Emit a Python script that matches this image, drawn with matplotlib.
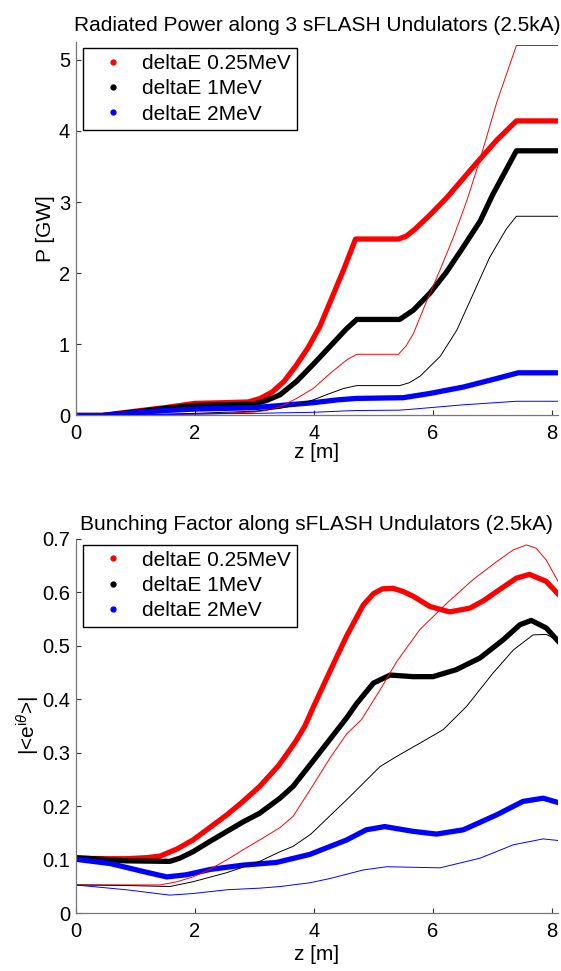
import numpy as np
import matplotlib
matplotlib.use("Agg")
import matplotlib.pyplot as plt
from matplotlib.lines import Line2D
from matplotlib.ticker import FuncFormatter

# ---- radiated power (top) ----
z_p_r = [0, 0.45, 1.0, 1.5, 2.0, 2.5, 2.9, 3.1, 3.3, 3.5, 3.7, 3.9, 4.1, 4.3, 4.5, 4.7,
         5.42, 5.55, 5.7, 5.95, 6.23, 6.67, 7.07, 7.40, 8.1]
p_r = [0, 0, 0.06, 0.11, 0.17, 0.18, 0.19, 0.24, 0.33, 0.48, 0.70, 0.95, 1.25, 1.65, 2.05, 2.48,
       2.48, 2.52, 2.62, 2.82, 3.06, 3.49, 3.87, 4.14, 4.14]
z_p_k = [0, 0.45, 1.0, 1.5, 2.0, 2.5, 3.0, 3.2, 3.43, 3.71, 3.99, 4.27, 4.55, 4.72,
         5.44, 5.67, 5.95, 6.23, 6.51, 6.79, 7.0, 7.40, 8.1]
p_k = [0, 0, 0.05, 0.10, 0.14, 0.15, 0.16, 0.21, 0.29, 0.48, 0.72, 0.97, 1.22, 1.35,
       1.35, 1.48, 1.72, 2.02, 2.37, 2.73, 3.1, 3.72, 3.72]
z_p_b = [0, 0.45, 1.0, 1.5, 2.0, 2.5, 3.0, 3.43, 3.99, 4.40, 4.72, 5.50, 5.95, 6.51, 7.07, 7.43, 8.1]
p_b = [0, 0, 0.04, 0.07, 0.09, 0.10, 0.11, 0.14, 0.18, 0.22, 0.24, 0.25, 0.31, 0.40, 0.52, 0.60, 0.60]

# thin lines
z_p_r2 = [0, 1.0, 1.5, 2.0, 2.5, 3.0, 3.2, 3.43, 3.71, 3.99, 4.27, 4.55, 4.72, 5.42, 5.55, 5.67,
          5.89, 6.12, 6.34, 6.56, 6.79, 7.07, 7.40, 8.1]
p_r2 = [0, 0.0, 0.01, 0.02, 0.03, 0.05, 0.07, 0.12, 0.24, 0.38, 0.59, 0.78, 0.86, 0.86, 0.98, 1.15,
        1.60, 2.05, 2.50, 3.0, 3.60, 4.40, 5.20, 5.20]
z_p_k2 = [0, 1.0, 2.0, 3.0, 3.43, 3.71, 3.99, 4.27, 4.50, 4.72, 5.44, 5.60, 5.78, 6.12, 6.40,
          6.67, 6.95, 7.23, 7.40, 8.1]
p_k2 = [0, 0.01, 0.03, 0.06, 0.10, 0.15, 0.22, 0.31, 0.38, 0.42, 0.42, 0.46, 0.55, 0.83, 1.20,
        1.70, 2.22, 2.62, 2.80, 2.80]
z_p_b2 = [0, 1.0, 2.0, 3.0, 3.99, 4.55, 4.72, 5.44, 5.67, 6.51, 7.40, 8.1]
p_b2 = [0, 0.01, 0.02, 0.03, 0.045, 0.065, 0.07, 0.075, 0.09, 0.15, 0.20, 0.20]

# ---- bunching factor (bottom) ----
z_b_r = [0, 0.5, 0.85, 1.2, 1.42, 1.70, 1.97, 2.25, 2.54, 2.8, 3.09, 3.4, 3.55, 3.7, 3.85, 3.99,
         4.27, 4.55, 4.83, 5.0, 5.15, 5.33, 5.5, 5.67, 5.95, 6.28, 6.62, 6.85, 7.07, 7.40, 7.62,
         7.90, 8.12]
b_r = [0.103, 0.102, 0.102, 0.104, 0.107, 0.120, 0.137, 0.160, 0.184, 0.208, 0.237, 0.275, 0.298,
       0.322, 0.350, 0.385, 0.452, 0.518, 0.576, 0.597, 0.606, 0.607, 0.601, 0.592, 0.573, 0.563,
       0.570, 0.584, 0.601, 0.626, 0.633, 0.620, 0.594]
z_b_k = [0, 0.85, 1.58, 1.75, 1.97, 2.25, 2.54, 2.8, 3.09, 3.43, 3.65, 3.99, 4.27, 4.55, 4.72,
         5.0, 5.28, 5.67, 6.0, 6.39, 6.79, 7.18, 7.46, 7.65, 7.90, 8.12]
b_k = [0.104, 0.098, 0.097, 0.103, 0.115, 0.134, 0.153, 0.170, 0.187, 0.215, 0.237, 0.285, 0.325,
       0.365, 0.392, 0.430, 0.445, 0.442, 0.442, 0.455, 0.477, 0.511, 0.539, 0.547, 0.533, 0.506]
z_b_b = [0, 0.58, 1.14, 1.53, 1.86, 2.26, 2.81, 3.37, 3.93, 4.55, 4.88, 5.19, 5.67, 6.06, 6.51,
         7.07, 7.51, 7.85, 8.13]
b_b = [0.101, 0.093, 0.078, 0.068, 0.072, 0.082, 0.090, 0.095, 0.110, 0.137, 0.156, 0.162, 0.153,
       0.148, 0.156, 0.184, 0.209, 0.215, 0.206]

z_b_r2 = [0, 0.8, 1.42, 1.70, 1.97, 2.25, 2.54, 2.8, 3.09, 3.43, 3.65, 3.99, 4.27, 4.55, 4.8,
          5.11, 5.39, 5.78, 6.23, 6.67, 7.07, 7.35, 7.57, 7.73, 7.90, 8.10]
b_r2 = [0.053, 0.053, 0.053, 0.059, 0.068, 0.082, 0.100, 0.118, 0.137, 0.160, 0.181, 0.24, 0.29,
        0.335, 0.362, 0.417, 0.470, 0.530, 0.579, 0.623, 0.657, 0.679, 0.688, 0.682, 0.660, 0.620]
z_b_k2 = [0, 0.85, 1.58, 1.97, 2.54, 3.09, 3.43, 3.65, 3.95, 4.55, 5.11, 5.39, 5.83, 6.17, 6.56,
          7.01, 7.35, 7.68, 7.90, 8.12]
b_k2 = [0.053, 0.052, 0.050, 0.059, 0.076, 0.097, 0.115, 0.125, 0.148, 0.212, 0.274, 0.293, 0.321,
        0.343, 0.386, 0.449, 0.492, 0.520, 0.521, 0.508]
z_b_b2 = [0, 0.85, 1.58, 1.97, 2.54, 3.09, 3.43, 3.93, 4.27, 4.83, 5.22, 6.12, 6.79, 7.35, 7.85, 8.10]
b_b2 = [0.053, 0.044, 0.034, 0.037, 0.044, 0.047, 0.050, 0.057, 0.065, 0.081, 0.087, 0.085, 0.103,
        0.128, 0.139, 0.136]

labels = ["deltaE 0.25MeV", "deltaE 1MeV", "deltaE 2MeV"]
colors = ["#ff0000", "#000000", "#0000ff"]

plt.rcParams['font.family'] = ['Liberation Sans', 'DejaVu Sans']
plt.rcParams['font.size'] = 15
plt.rcParams['mathtext.fontset'] = 'custom'
plt.rcParams['mathtext.rm'] = 'Liberation Sans'
plt.rcParams['mathtext.it'] = 'Liberation Sans:italic'

fig = plt.figure(figsize=(5.61, 9.71), dpi=100)
ax1 = fig.add_axes([0.1348, 0.5721, 0.860, 0.3847])
ax2 = fig.add_axes([0.1348, 0.0594, 0.860, 0.3860])


def style(ax, xlpad):
    ax.spines['top'].set_visible(False)
    ax.spines['right'].set_visible(False)
    for s in ['left', 'bottom']:
        ax.spines[s].set_linewidth(0.9)
        ax.spines[s].set_color('#777777')
    ax.tick_params(direction='in', length=3.6, width=0.8, labelsize=14.5, pad=4, color='#333333')
    ax.tick_params(axis='x', pad=6)
    ax.set_xlim(0, 8.1)
    ax.set_xticks([0, 2, 4, 6, 8])
    ax.set_xlabel("z [m]", labelpad=xlpad)


def legend(ax, top):
    handles = [Line2D([], [], marker='.', linestyle='none', color=c, markersize=7) for c in colors]
    ax.legend(handles, labels, loc='upper left', bbox_to_anchor=(0.015, top), borderaxespad=0,
              fancybox=False, framealpha=1, edgecolor='black', fontsize=15,
              handlelength=2.3, handletextpad=0.25, labelspacing=0.3, borderpad=0.3)


thick = [(z_p_r, p_r), (z_p_k, p_k), (z_p_b, p_b)]
thin = [(z_p_r2, p_r2), (z_p_k2, p_k2), (z_p_b2, p_b2)]
for (x, y), c in zip(thick, colors):
    ax1.plot(x, y, color=c, lw=3.8, solid_capstyle='round', solid_joinstyle='round')
for (x, y), c in zip(thin, colors):
    ax1.plot(x, y, color=c, lw=0.7)
style(ax1, 0)
ax1.set_ylim(0, 5.25)
ax1.set_yticks([0, 1, 2, 3, 4, 5])
ax1.set_ylabel("P [GW]", labelpad=3)
ax1.set_title("Radiated Power along 3 sFLASH Undulators (2.5kA)", fontsize=15, pad=8)
legend(ax1, 0.984)

thick = [(z_b_r, b_r), (z_b_k, b_k), (z_b_b, b_b)]
thin = [(z_b_r2, b_r2), (z_b_k2, b_k2), (z_b_b2, b_b2)]
for (x, y), c in zip(thick, colors):
    ax2.plot(x, y, color=c, lw=3.8, solid_capstyle='round', solid_joinstyle='round')
for (x, y), c in zip(thin, colors):
    ax2.plot(x, y, color=c, lw=0.7)
style(ax2, 3)
ax2.set_ylim(0, 0.7)
ax2.set_yticks(np.arange(0, 0.71, 0.1))
ax2.yaxis.set_major_formatter(FuncFormatter(lambda v, p: "0" if abs(v) < 1e-9 else "%.1f" % v))
ax2.set_ylabel(r"|<e$^{\mathrm{i}\theta}$>|", labelpad=0)
ax2.set_title("Bunching Factor along sFLASH Undulators (2.5kA)", fontsize=15, pad=6)
legend(ax2, 0.984)

fig.savefig("out.png", dpi=100)
